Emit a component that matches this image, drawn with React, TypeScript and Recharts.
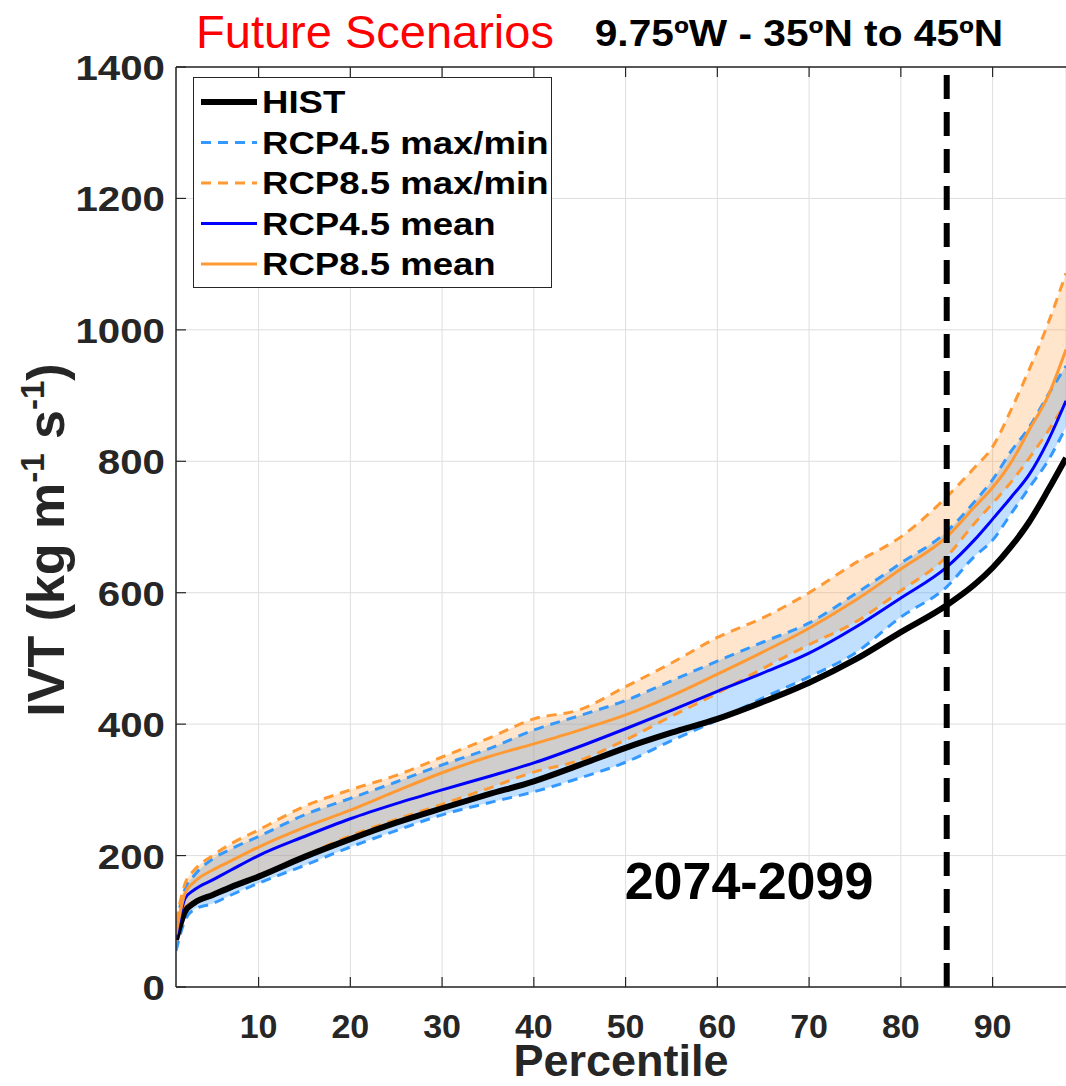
import React from 'react';
import {
  ComposedChart,
  Line,
  Area,
  XAxis,
  YAxis,
  CartesianGrid,
  ReferenceLine,
  Legend,
  Label,
} from 'recharts';

// ---------------- DATA ----------------
const percentiles = [1, 2, 3, 5, 7, 10, 15, 20, 25, 30, 35, 40, 45, 50, 55, 60, 65, 70, 75, 80, 85, 88, 90, 92, 94, 96, 98];

const hist = [72, 115, 128, 140, 152, 168, 198, 225, 250, 272, 293, 313, 338, 364, 387, 408, 434, 463, 498, 540, 581, 612, 638, 670, 708, 755, 805];

const rcp45Mean = [75, 135, 148, 163, 178, 200, 229, 256, 279, 300, 320, 341, 366, 393, 421, 450, 478, 508, 547, 592, 639, 680, 712, 745, 780, 830, 892];
const rcp85Mean = [80, 143, 160, 178, 192, 213, 243, 269, 298, 326, 350, 370, 391, 414, 443, 476, 510, 546, 588, 636, 685, 730, 760, 798, 848, 898, 970];

const rcp45Max = [95, 150, 170, 195, 210, 229, 262, 287, 312, 338, 362, 391, 413, 436, 466, 496, 525, 554, 598, 645, 693, 738, 772, 815, 852, 900, 945];
const rcp45Min = [55, 102, 118, 127, 140, 158, 185, 213, 238, 262, 280, 297, 318, 342, 375, 406, 440, 472, 508, 563, 609, 655, 680, 720, 760, 800, 852];

const rcp85Max = [100, 158, 178, 200, 218, 239, 275, 300, 322, 350, 378, 408, 422, 457, 493, 532, 562, 600, 645, 685, 746, 790, 822, 878, 940, 1008, 1086];
const rcp85Min = [70, 122, 130, 140, 152, 170, 200, 230, 255, 278, 302, 327, 345, 376, 412, 447, 485, 521, 555, 603, 655, 705, 736, 768, 805, 845, 890];

const xTicks = [10, 20, 30, 40, 50, 60, 70, 80, 90];
const yTicks = [0, 200, 400, 600, 800, 1000, 1200, 1400];
const thresholdPercentile = 85;
const periodLabel = '2074-2099';

const legendItems = [
  { name: 'HIST', color: '#000000', dash: '', width: 6 },
  { name: 'RCP4.5 max/min', color: '#3399FF', dash: '10 7', width: 3 },
  { name: 'RCP8.5 max/min', color: '#FF9933', dash: '10 7', width: 3 },
  { name: 'RCP4.5 mean', color: '#0000FF', dash: '', width: 3 },
  { name: 'RCP8.5 mean', color: '#FF9933', dash: '', width: 3 },
];

const data = percentiles.map((p, i) => ({
  p,
  hist: hist[i],
  m45: rcp45Mean[i],
  m85: rcp85Mean[i],
  max45: rcp45Max[i],
  min45: rcp45Min[i],
  max85: rcp85Max[i],
  min85: rcp85Min[i],
  band45: [rcp45Min[i], rcp45Max[i]],
  band85: [rcp85Min[i], rcp85Max[i]],
}));

// ---------------- STYLE ----------------
const FONT = '"Liberation Sans", Arial, Helvetica, sans-serif';
const AXIS_COLOR = '#262626';
const W = 1066;
const H = 1086;

const BottomTick = (props: any) => {
  const { x, y, payload } = props;
  return (
    <g>
      <line x1={x} x2={x} y1={y} y2={y - 10} stroke={AXIS_COLOR} strokeWidth={1.2} />
      <text x={x} y={y + 51} textAnchor="middle" fontFamily={FONT} fontWeight="bold" fontSize={34} fill={AXIS_COLOR}>
        {payload.value}
      </text>
    </g>
  );
};

const TopTick = (props: any) => {
  const { x, y } = props;
  return <line x1={x} x2={x} y1={y} y2={y + 10} stroke={AXIS_COLOR} strokeWidth={1.2} />;
};

const LeftTick = (props: any) => {
  const { x, y, payload } = props;
  return (
    <g>
      <line x1={x} x2={x + 10} y1={y} y2={y} stroke={AXIS_COLOR} strokeWidth={1.2} />
      <text
        transform={`translate(${x - 11}, ${y + 13}) scale(1.15, 1)`}
        textAnchor="end"
        fontFamily={FONT}
        fontWeight="bold"
        fontSize={35}
        fill={AXIS_COLOR}
      >
        {payload.value}
      </text>
    </g>
  );
};

const YLabel = () => (
  <text
    transform="translate(64, 540) rotate(-90)"
    textAnchor="middle"
    fontFamily={FONT}
    fontWeight="bold"
    fontSize={52}
    fill={AXIS_COLOR}
  >
    IVT (kg m
    <tspan fontSize={33} dy={-20}>-1</tspan>
    <tspan dy={20}> s</tspan>
    <tspan fontSize={33} dy={-20}>-1</tspan>
    <tspan dy={20}>)</tspan>
  </text>
);

const XLabel = (props: any) => {
  const vb = props.viewBox || {};
  const cx = vb.x + vb.width / 2;
  return (
    <text x={cx} y={1076} textAnchor="middle" fontFamily={FONT} fontWeight="bold" fontSize={45} fill={AXIS_COLOR}>
      Percentile
    </text>
  );
};

const LegendBox = () => (
  <svg width={360} height={212} style={{ display: 'block' }}>
    <rect x={0.5} y={0.5} width={358} height={210} fill="#ffffff" stroke={AXIS_COLOR} strokeWidth={1} />
    {legendItems.map((it, i) => {
      const cy = 25 + i * 40.5;
      return (
        <g key={it.name}>
          <line
            x1={8}
            x2={64}
            y1={cy}
            y2={cy}
            stroke={it.color}
            strokeWidth={it.width}
            strokeDasharray={it.dash || undefined}
          />
          <text
            transform={`translate(69, ${cy + 11}) scale(1.18, 1)`}
            fontFamily={FONT}
            fontWeight="bold"
            fontSize={31}
            fill="#000000"
          >
            {it.name}
          </text>
        </g>
      );
    })}
  </svg>
);

export default function App() {
  return (
    <div
      style={{
        position: 'fixed',
        left: 0,
        top: 0,
        width: W,
        height: H,
        background: '#ffffff',
        overflow: 'hidden',
      }}
    >
      <ComposedChart
        width={W}
        height={H}
        data={data}
        margin={{ top: 0, right: 0, bottom: 0, left: 0 }}
      >
        <CartesianGrid stroke="#dedede" strokeWidth={1} />
        <XAxis
          dataKey="p"
          type="number"
          domain={[1, 98]}
          ticks={xTicks}
          allowDataOverflow
          height={99}
          tickSize={0}
          tickMargin={0}
          tickLine={false}
          tick={<BottomTick />}
          axisLine={{ stroke: AXIS_COLOR, strokeWidth: 1.5 }}
          interval={0}
        >
          <Label content={<XLabel />} />
        </XAxis>
        <XAxis
          xAxisId="top"
          orientation="top"
          dataKey="p"
          type="number"
          domain={[1, 98]}
          ticks={xTicks}
          allowDataOverflow
          height={67}
          tickSize={0}
          tickMargin={0}
          tickLine={false}
          tick={<TopTick />}
          axisLine={{ stroke: AXIS_COLOR, strokeWidth: 1.5 }}
          interval={0}
        />
        <YAxis
          type="number"
          domain={[0, 1400]}
          ticks={yTicks}
          width={176}
          tickSize={0}
          tickMargin={0}
          tickLine={false}
          tick={<LeftTick />}
          axisLine={{ stroke: AXIS_COLOR, strokeWidth: 1.5 }}
          interval={0}
        >
          <Label content={<YLabel />} />
        </YAxis>

        {/* dashed envelopes (under the fills) */}
        <Line dataKey="max45" type="monotone" stroke="#3399FF" strokeWidth={3} strokeDasharray="10 7" dot={false} isAnimationActive={false} />
        <Line dataKey="min45" type="monotone" stroke="#3399FF" strokeWidth={3} strokeDasharray="10 7" dot={false} isAnimationActive={false} />
        <Line dataKey="max85" type="monotone" stroke="#FF9933" strokeWidth={3} strokeDasharray="10 7" dot={false} isAnimationActive={false} />
        <Line dataKey="min85" type="monotone" stroke="#FF9933" strokeWidth={3} strokeDasharray="10 7" dot={false} isAnimationActive={false} />

        {/* shaded ranges */}
        <Area dataKey="band45" type="monotone" stroke="none" fill="#3399FF" fillOpacity={0.3} isAnimationActive={false} />
        <Area dataKey="band85" type="monotone" stroke="none" fill="#FF9933" fillOpacity={0.25} isAnimationActive={false} />

        {/* main curves */}
        <Line dataKey="hist" type="monotone" stroke="#000000" strokeWidth={6} dot={false} isAnimationActive={false} />
        <Line dataKey="m45" type="monotone" stroke="#0000FF" strokeWidth={3} dot={false} isAnimationActive={false} />
        <Line dataKey="m85" type="monotone" stroke="#FF9933" strokeWidth={3} dot={false} isAnimationActive={false} />

        <ReferenceLine x={thresholdPercentile} stroke="#000000" strokeWidth={6} strokeDasharray="24 13" />

        <Legend
          layout="vertical"
          align="center"
          verticalAlign="middle"
          wrapperStyle={{ position: 'absolute', left: 193, top: 77, width: 360, height: 212 }}
          content={<LegendBox />}
        />
      </ComposedChart>

      <svg
        width={W}
        height={H}
        style={{ position: 'absolute', left: 0, top: 0, pointerEvents: 'none' }}
      >
        <text x={375} y={48} textAnchor="middle" fontFamily={FONT} fontSize={47} fill="#FF0000">
          Future Scenarios
        </text>
        <text
          transform="translate(799, 46) scale(1.13, 1)"
          textAnchor="middle"
          fontFamily={FONT}
          fontWeight="bold"
          fontSize={36}
          fill="#000000"
        >
          9.75ºW - 35ºN to 45ºN
        </text>
        <text x={749} y={899} textAnchor="middle" fontFamily={FONT} fontWeight="bold" fontSize={52} fill="#000000">
          {periodLabel}
        </text>
      </svg>
    </div>
  );
}
